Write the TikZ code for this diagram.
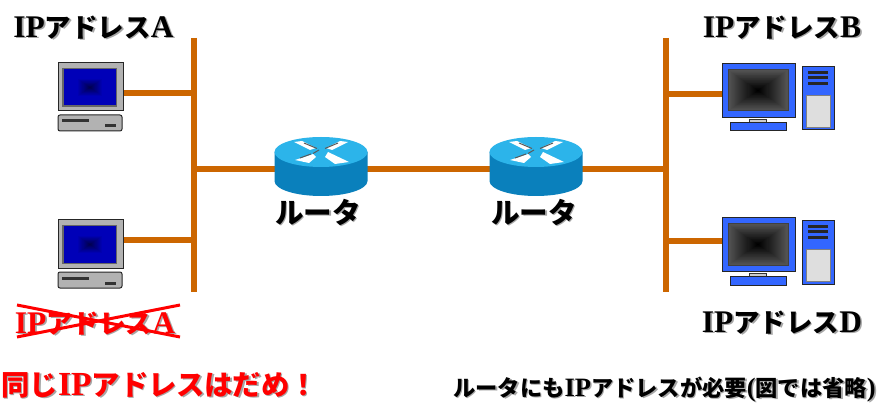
\documentclass[tikz,border=0pt]{standalone}
\usepackage{fontspec}
\usetikzlibrary{calc}
\setmainfont{Liberation Serif}
\newfontfamily\cjkf[Scale=0.84,BoldFont={Noto Sans CJK JP Black}]{Noto Sans CJK JP}
\newcommand\jp[1]{{\cjkf\bfseries #1}}
\newcommand\shadtext[2]{\leavevmode\rlap{\kern1.6pt\raisebox{-1.6pt}{\textcolor{black!35}{#2}}}\textcolor{#1}{#2}}
\definecolor{wirec}{HTML}{CC6600}
\definecolor{scrblue}{HTML}{0000B8}
\definecolor{scrdeep}{HTML}{000050}
\definecolor{pcblue}{HTML}{3366FF}
\definecolor{rtop}{HTML}{2CB4EA}
\definecolor{rside}{HTML}{0A80BC}
\tikzset{
  wire/.style={draw=wirec,line width=6pt},
  lab/.style={inner sep=0pt,anchor=center,font=\bfseries},
  pcpart/.style={draw=black!85,line width=1pt},
  pic1/.pic={
    \node[pcpart,fill=black!30,minimum width=65pt,minimum height=48pt,inner sep=0pt] (-mon) at (90.5,87) {};
    \fill[black!60] (62,68) rectangle (117,107);
    \fill[scrblue] (63.5,69.5) rectangle (115.5,105.5);
    \foreach \i in {0,...,23}{
      \pgfmathsetmacro\m{100-\i*100/23}
      \fill[scrblue!\m!scrdeep] ({90-26*(24-\i)/48},{87.5-18*(24-\i)/48}) rectangle ({90+26*(24-\i)/48},{87.5+18*(24-\i)/48});
    }
    \draw[pcpart,fill=black!30,rounded corners=2pt] (58,115) rectangle (122,131);
    \fill[black!80] (62,119.5) rectangle (89,122.5);
    \fill[black!80] (105,124.5) rectangle (116,127.5);
  },
  pic2/.pic={
    \node[pcpart,fill=pcblue,minimum width=73pt,minimum height=54pt,inner sep=0pt] (-mon) at (758.5,90.5) {};
    \fill[black!75] (727.5,69.5) rectangle (788.5,111.5);
    \foreach \i in {0,...,27}{
      \pgfmathsetmacro\g{68+32*\i/27}
      \fill[black!\g] ({758-29.5*(28-\i)/28},{90.5-20*(28-\i)/28}) rectangle ({758+29.5*(28-\i)/28},{90.5+20*(28-\i)/28});
    }
    \draw[black!80,line width=.6pt,fill=black!20] (749,119) rectangle (766,122.5);
    \draw[pcpart,fill=pcblue] (730.5,122.5) rectangle (786.5,131);
    \draw[pcpart,fill=pcblue] (802.5,66.5) rectangle (834.5,130);
    \fill[black!85] (808,71) rectangle (828,74);
    \fill[black!85] (808,76.5) rectangle (828,79.5);
    \fill[black!85] (808,82) rectangle (828,85);
    \draw[black!50,line width=1pt,fill=black!13] (806.5,95.5) rectangle (830.5,127.5);
  },
  routerpic/.pic={
    \fill[rside] (-46.5,0) -- (-46.5,29) arc[start angle=180,end angle=0,x radius=46.5,y radius=15] -- (46.5,0) -- cycle;
    \fill[rtop] (0,0) ellipse[x radius=46.5,y radius=15];
    \begin{scope}
      \clip (0,0) ellipse[x radius=46.5,y radius=15];
      \fill[white] (-27,-10) -- (-19,-11) -- (-5,-4) -- (-11,-2) -- cycle;
      \fill[white] (27,-10) -- (19,-11) -- (5,-4) -- (11,-2) -- cycle;
      \fill[white] (-26,8) -- (-8,2) -- (-5,5) -- (-12,11) -- cycle;
      \fill[white] (28,10) -- (7,0) -- (4,5) -- (14,12) -- cycle;
      \draw[black!65,line width=1pt] (-17,-9) -- (-4,-3.5) (17,-9) -- (4,-3.5) (-8,1.5) -- (-2,-2) (-21,6) -- (-10,2);
    \end{scope}
  }
}
\begin{document}
\begin{tikzpicture}[x=1pt,y=-1pt]
\useasboundingbox (0,0) rectangle (880,403);
\fill[white] (0,0) rectangle (880,403);
% bus end points
\coordinate (lt) at (194,38);
\coordinate (lb) at (194,292);
\coordinate (rt) at (666,38);
\coordinate (rb) at (666,292);
\coordinate (lm) at (191,169);
\coordinate (rm) at (669,169);
\node[inner sep=0pt] (r1) at (321,169) {};
\node[inner sep=0pt] (r2) at (536,169) {};
% devices
\pic (a) at (0,0) {pic1};
\pic (c) at (0,157) {pic1};
\pic (b) at (0,0) {pic2};
\pic (d) at (0,154) {pic2};
% wires
\draw[wire] (lt) -- (lb);
\draw[wire] (rt) -- (rb);
\draw[wire] (lm) -- (r1);
\draw[wire] (r1) -- (r2);
\draw[wire] (r2) -- (rm);
\draw[wire] ([yshift=-6pt]a-mon.east) -- ($([yshift=-6pt]a-mon.east -| lt)+(3,0)$);
\draw[wire] ([yshift=4pt]c-mon.east) -- ($([yshift=4pt]c-mon.east -| lt)+(3,0)$);
\draw[wire] ([yshift=-3.5pt]b-mon.west) -- ($([yshift=-3.5pt]b-mon.west -| rt)+(-3,0)$);
\draw[wire] ([yshift=3.5pt]d-mon.west) -- ($([yshift=3.5pt]d-mon.west -| rt)+(-3,0)$);
% routers
\pic at (321,152) {routerpic};
\pic at (536,152) {routerpic};
% labels
\node[lab,font=\bfseries\fontsize{31.5}{33}\selectfont] (la) at (93.5,28) {\shadtext{black}{IP\jp{アドレス}A}};
\node[lab,font=\bfseries\fontsize{31.5}{33}\selectfont] (lbb) at (782,28) {\shadtext{black}{IP\jp{アドレス}B}};
\node[lab,font=\bfseries\fontsize{31.5}{33}\selectfont] (ld) at (782,323) {\shadtext{black}{IP\jp{アドレス}D}};
\node[lab,font=\bfseries\fontsize{31.5}{33}\selectfont] (lc) at (95,324) {\shadtext{red}{IP\jp{アドレス}A}};
\draw[red,line width=3pt] (17,305) -- (180,337);
\draw[red,line width=3pt] (17,337) -- (180,305);
\node[lab,font=\bfseries\fontsize{34}{36}\selectfont] (t1) at (318,213) {\shadtext{black}{\jp{ルータ}}};
\node[lab,font=\bfseries\fontsize{34}{36}\selectfont] (t2) at (534,213) {\shadtext{black}{\jp{ルータ}}};
\node[lab,font=\bfseries\fontsize{33.7}{35}\selectfont] (ng) at (159.5,386) {\shadtext{red}{\jp{同じ}IP\jp{アドレスはだめ！}}};
\node[lab,font=\bfseries\fontsize{26.5}{28}\selectfont] (note) at (664.5,390) {\shadtext{black}{\jp{ルータにも}IP\jp{アドレスが必要}(\jp{図では省略})}};
\end{tikzpicture}
\end{document}
